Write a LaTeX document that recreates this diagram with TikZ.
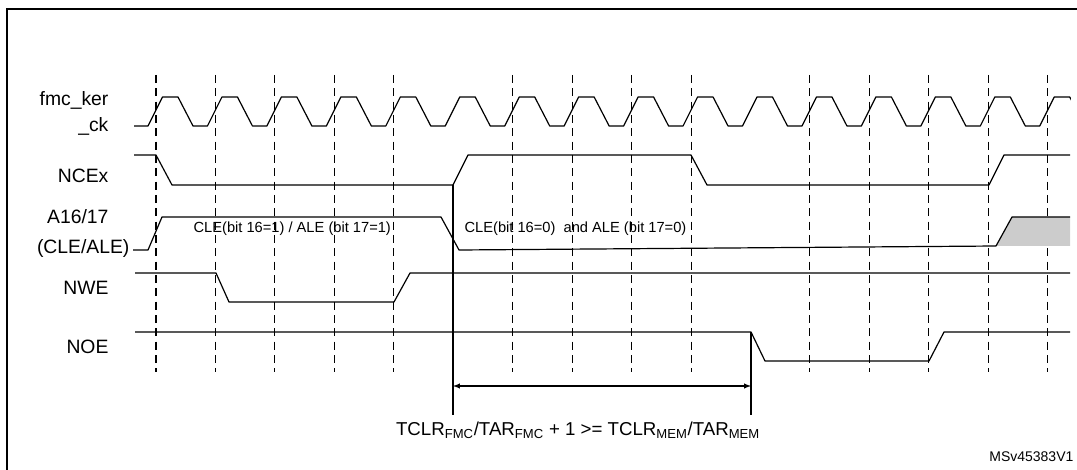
\documentclass[tikz,border=0pt]{standalone}
\usepackage{fontspec}
\setmainfont{Liberation Sans}
\usetikzlibrary{positioning, calc, arrows}
\tikzset{
    sig/.style={line width=0.9pt, line join=round},
    grid/.style={dashed, dash pattern=on 6pt off 4pt, line width=0.8pt},
    lbl/.style={anchor=east, font=\fontsize{14.5}{16}\selectfont, inner sep=1pt},
    inlbl/.style={anchor=west, font=\fontsize{11}{12}\selectfont, inner sep=1pt},
}
\begin{document}
\begin{tikzpicture}[x=0.75pt, y=-0.75pt]
    \useasboundingbox (0,0) rectangle (1077,470);
    \draw[line width=1.5pt] (7,475) -- (7,9) -- (1080,9);
    % grid
    \foreach \k in {0,...,15} {
        \ifnum\k=5 \else\ifnum\k=10 \else
        \draw[grid] ({156+59.45*\k},75) -- ({156+59.45*\k},372);
        \fi\fi
    }
    \coordinate (t1) at (453,386);
    \coordinate (t2) at (751,386);
    \draw[line width=0.8pt] (453,185) -- (453,415);
    \draw[line width=0.8pt] (751,332) -- (751,415);
    % signal names
    \node[lbl] (ck1) at (110,100) {fmc\_ker};
    \node[lbl] (ck2) at (110,126) {\_ck};
    \node[lbl] (nce) at (110,176) {NCEx};
    \node[lbl] (a1) at (110,217) {A16/17};
    \node[lbl] (a2) at (131,248) {(CLE/ALE)};
    \node[lbl] (nwe) at (110,288) {NWE};
    \node[lbl] (noe) at (110,347) {NOE};
    % fmc_ker_ck
    \draw[sig] (134,126) -- (148,126)
        \foreach \k in {0,...,15} {
            -- ({148+59.45*\k},126) -- ({162.5+59.45*\k},97)
            -- ({178+59.45*\k},97) -- ({193+59.45*\k},126)
            -- ({207.5+59.45*\k},126)
        } ;
    \fill[white] (1071,80) rectangle (1100,140);
    % NCEx
    \draw[sig] (134,155) -- (156,155) -- (172,185) -- (453,185) -- (468,155)
        -- (691,155) -- (707,185) -- (989,185) -- (1004,155) -- (1070,155);
    % A16/17
    \fill[black!20] (996,246) -- (1012,217) -- (1070,217) -- (1070,246) -- cycle;
    \draw[sig] (133,250) -- (148,250) -- (162,217) -- (441,217) -- (459,250)
        -- (996,246) -- (1012,217) -- (1070,217);
    \node[inlbl] (cle1) at (192,229) {CLE(bit 16=1) / ALE (bit 17=1)};
    \node[inlbl] (cle0) at (463,229) {CLE(bit 16=0)\ \ and ALE (bit 17=0)};
    % NWE
    \draw[sig] (135,273) -- (216,273) -- (229,302) -- (394,302) -- (410,273) -- (1070,273);
    % NOE
    \draw[sig] (135,332) -- (751,332) -- (765,361) -- (929,361) -- (944,332) -- (1070,332);
    % timing constraint
    \draw[<->, >=latex, line width=0.8pt] (t1) -- (t2);
    \node[font=\fontsize{14}{16}\selectfont] (cond) at (578,430)
        {TCLR\textsubscript{FMC}/TAR\textsubscript{FMC} + 1 >= TCLR\textsubscript{MEM}/TAR\textsubscript{MEM}};
    \node[anchor=east, font=\fontsize{10.5}{12}\selectfont, inner sep=1pt] (ref) at (1075,457) {MSv45383V1};
\end{tikzpicture}
\end{document}
